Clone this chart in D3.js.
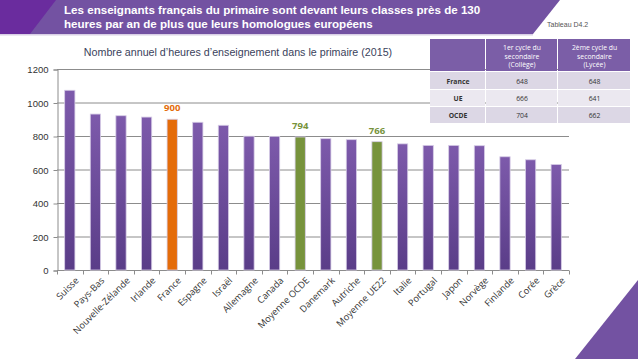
<!DOCTYPE html>
<html><head><meta charset="utf-8">
<script src="https://cdn.jsdelivr.net/npm/d3@7"></script>
<style>body{margin:0;background:#fff;}svg{display:block;}</style>
</head><body>
<svg id="c" width="638" height="359"></svg>
<script>
const categories = ["Suisse","Pays-Bas","Nouvelle-Zélande","Irlande","France","Espagne","Israël","Allemagne","Canada","Moyenne OCDE","Danemark","Autriche","Moyenne UE22","Italie","Portugal","Japon","Norvège","Finlande","Corée","Grèce"];
const values = [1073,931,921,913,900,882,864,799,798,794,784,778,766,753,744,744,742,676,658,630];
const highlight = {"France":"france","Moyenne OCDE":"avg","Moyenne UE22":"avg"};
const yTicks = [0,200,400,600,800,1000,1200];
const tableHeader = ["", "1er cycle du\nsecondaire\n(Collège)", "2ème cycle du\nsecondaire\n(Lycée)"];
const tableRows = ["France","UE","OCDE"];
const tableCollege = [648,666,704];
const tableLycee = [648,641,662];

const svg = d3.select("#c");
const defs = svg.append("defs");
const g1 = defs.append("linearGradient").attr("id","gp").attr("x1",0).attr("y1",0).attr("x2",0).attr("y2",1);
g1.append("stop").attr("offset","0").attr("stop-color","#7d5aab");
g1.append("stop").attr("offset","1").attr("stop-color","#5a3d88");

// header band
svg.append("polygon").attr("points","0,0 560,0 533,34 0,34").attr("fill","#7352a2");
svg.append("polygon").attr("points","0,0 56,0 30,34 0,34").attr("fill","#6a2c9e");
svg.append("rect").attr("x",0).attr("y",34).attr("width",533).attr("height",1.5).attr("fill","#d9d0e6");
const ht = svg.append("text").attr("fill","#fff").attr("font-family","Liberation Sans, Arial, sans-serif").attr("font-weight","bold").attr("font-size",11.6);
ht.append("tspan").attr("x",64).attr("y",14).text("Les enseignants français du primaire sont devant leurs classes près de 130");
ht.append("tspan").attr("x",64).attr("y",28).text("heures par an de plus que leurs homologues européens");
svg.append("text").attr("x",547).attr("y",27).attr("font-family","Liberation Sans, Arial, sans-serif").attr("font-size",7).attr("fill","#555").text("Tableau D4.2");

// bottom-right triangle
svg.append("polygon").attr("points","638,280 638,359 575,359").attr("fill","#7352a2");

// chart
const x = d3.scaleBand().domain(categories).range([57,569]).paddingInner(0.6).paddingOuter(0.3);
const y = d3.scaleLinear().domain([0,1200]).range([270,69]);

svg.append("text").attr("x",238).attr("y",56).attr("text-anchor","middle")
  .attr("font-family","Liberation Sans, Arial, sans-serif").attr("font-size",10.7).attr("fill","#3a3f5c")
  .text("Nombre annuel d’heures d’enseignement dans le primaire (2015)");

// gridlines
svg.append("g").selectAll("line").data(yTicks.filter(d=>d>0)).join("line")
  .attr("x1",57).attr("x2",569).attr("y1",d=>y(d)+0.5).attr("y2",d=>y(d)+0.5)
  .attr("stroke","#8c8c8c").attr("stroke-width",1);

// y axis
const ya = svg.append("g").attr("transform","translate(57.5,0.5)")
  .call(d3.axisLeft(y).tickValues(yTicks).tickFormat(d3.format("d")).tickSize(4).tickPadding(5));
ya.select(".domain").attr("stroke","#8c8c8c");
ya.selectAll(".tick line").attr("stroke","#8c8c8c");
ya.selectAll("text").attr("font-family","Liberation Sans, Arial, sans-serif").attr("font-size",9.5).attr("fill","#333");

// x axis
const xa = svg.append("g").attr("transform","translate(0,270.5)");
xa.append("line").attr("x1",57).attr("x2",569).attr("stroke","#8c8c8c");
const step = x.step();
xa.selectAll("line.t").data(d3.range(categories.length+1)).join("line").attr("class","t")
  .attr("x1",i=>Math.round(57+i*step)+0.5).attr("x2",i=>Math.round(57+i*step)+0.5)
  .attr("y1",0).attr("y2",4).attr("stroke","#8c8c8c");
xa.selectAll("text").data(categories).join("text")
  .attr("transform",d=>`translate(${x(d)+x.bandwidth()/2+5},6) rotate(-45)`)
  .attr("text-anchor","end").attr("dy","0.7em")
  .attr("font-family","Open Sans, sans-serif").attr("font-size",9.3).attr("fill","#333")
  .text(d=>d);

// bars
const colorOf = d => highlight[d]==="france" ? "#e46c0a" : highlight[d]==="avg" ? "#77933c" : "url(#gp)";
svg.append("g").selectAll("rect").data(categories).join("rect")
  .attr("x",d=>x(d)).attr("width",x.bandwidth())
  .attr("y",(d,i)=>y(values[i])).attr("height",(d,i)=>y(0)-y(values[i]))
  .attr("fill",colorOf).attr("stroke","#d6cce6").attr("stroke-width",0.8);

// labels
svg.append("g").selectAll("text").data(categories.filter(d=>highlight[d])).join("text")
  .attr("x",d=>x(d)+x.bandwidth()/2).attr("y",d=>y(values[categories.indexOf(d)])-8)
  .attr("text-anchor","middle").attr("font-family","Open Sans, sans-serif").attr("font-weight","bold").attr("font-size",9.5)
  .attr("fill",d=>highlight[d]==="france"?"#e46c0a":"#77933c")
  .text(d=>values[categories.indexOf(d)]);

// table
const colX = [430,486,558,631];
const rowY = [39,72,90,107,124];
const tb = svg.append("g");
tb.selectAll("rect.h").data([0,1,2]).join("rect").attr("class","h")
  .attr("x",i=>colX[i]).attr("y",rowY[0]).attr("width",i=>colX[i+1]-colX[i]-1).attr("height",rowY[1]-rowY[0]-1)
  .attr("fill","#7b5ea7");
tableHeader.forEach((t,i)=>{
  const lines = t.split("\n");
  const tx = tb.append("text").attr("text-anchor","middle").attr("font-family","Open Sans, sans-serif").attr("font-size",6.8).attr("fill","#fff");
  lines.forEach((l,j)=>tx.append("tspan").attr("x",(colX[i]+colX[i+1])/2).attr("y",rowY[0]+11+j*8.5).text(l));
});
tableRows.forEach((r,ri)=>{
  const fill = ri===1 ? "#ebe8f0" : "#dcd7e5";
  const cells = [r, tableCollege[ri], tableLycee[ri]];
  cells.forEach((c,ci)=>{
    tb.append("rect").attr("x",colX[ci]).attr("y",rowY[ri+1]).attr("width",colX[ci+1]-colX[ci]-1).attr("height",rowY[ri+2]-rowY[ri+1]-1).attr("fill",fill);
    tb.append("text").attr("x",(colX[ci]+colX[ci+1])/2).attr("y",(rowY[ri+1]+rowY[ri+2])/2+2.5)
      .attr("text-anchor","middle").attr("font-family","Open Sans, sans-serif").attr("font-size",6.8)
      .attr("font-weight",ci===0?"bold":"normal").attr("fill","#333").text(c);
  });
});
</script>
</body></html>
